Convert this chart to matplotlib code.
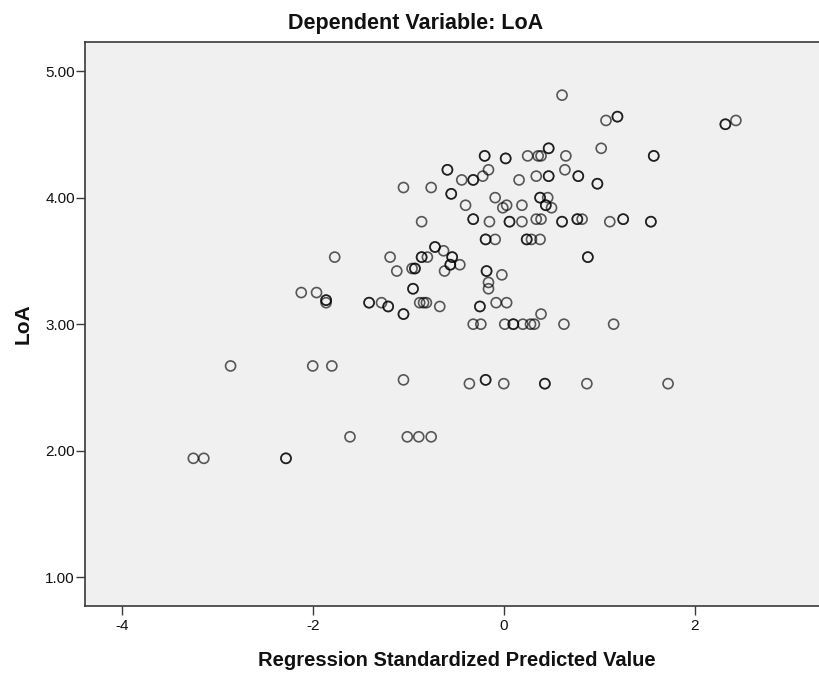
import matplotlib
matplotlib.use("Agg")
import matplotlib.pyplot as plt
from matplotlib import font_manager as fm
from matplotlib.ticker import FormatStrFormatter

# ---- data (repeated entries = overlapping points) ----
pred_x = [
    0.61, 1.07, 1.19, 1.19, 2.32, 2.32, 2.43, 1.02, 0.47, 0.47,
    1.57, 1.57, -0.20, -0.20, 0.02, 0.02, 0.25, 0.36, 0.39, 0.65,
    -0.59, -0.59, -0.16, 0.64, -0.44, -0.32, -0.32, -0.22, 0.16, 0.34,
    0.47, 0.47, 0.78, 0.78, 0.98, 0.98, -1.05, -0.76, -0.55, -0.55,
    -0.09, -0.01, 0.03, -0.40, 0.19, 0.38, 0.38, 0.46, 0.44, 0.44,
    0.50, -0.86, -0.32, -0.32, -0.15, 0.06, 0.06, 0.19, 0.34, 0.39,
    0.61, 0.61, 0.77, 0.77, 0.82, 1.11, 1.25, 1.25, 1.54, 1.54,
    -0.19, -0.19, -0.09, 0.24, 0.24, 0.29, 0.38, -0.72, -0.72, -0.63,
    -1.77, -1.19, -0.86, -0.86, -0.80, -0.54, -0.54, -0.56, -0.56, -0.46,
    -0.62, -1.12, -0.96, -0.93, -0.93, 0.88, 0.88, -0.18, -0.18, -0.02,
    -0.16, -0.16, -0.95, -0.95, -2.12, -1.96, -1.86, -1.86, -1.86, -1.41,
    -1.41, -1.28, -1.21, -1.21, -1.05, -1.05, -0.88, -0.84, -0.81, -0.67,
    -0.25, -0.25, -0.08, 0.03, 0.39,
    -0.32, -0.24, 0.01, 0.10, 0.10, 0.20, 0.28, 0.32, 0.63, 1.15,
    -2.86, -2.00, -1.80,
    -1.05, -0.19, -0.19,
    -0.36, 0.00, 0.43, 0.43, 0.87, 1.72,
    -1.61, -1.01, -0.89, -0.76,
    -3.25, -3.14, -2.28, -2.28,
]
loa_y = [
    4.81, 4.61, 4.64, 4.64, 4.58, 4.58, 4.61, 4.39, 4.39, 4.39,
    4.33, 4.33, 4.33, 4.33, 4.31, 4.31, 4.33, 4.33, 4.33, 4.33,
    4.22, 4.22, 4.22, 4.22, 4.14, 4.14, 4.14, 4.17, 4.14, 4.17,
    4.17, 4.17, 4.17, 4.17, 4.11, 4.11, 4.08, 4.08, 4.03, 4.03,
    4.00, 3.92, 3.94, 3.94, 3.94, 4.00, 4.00, 4.00, 3.94, 3.94,
    3.92, 3.81, 3.83, 3.83, 3.81, 3.81, 3.81, 3.81, 3.83, 3.83,
    3.81, 3.81, 3.83, 3.83, 3.83, 3.81, 3.83, 3.83, 3.81, 3.81,
    3.67, 3.67, 3.67, 3.67, 3.67, 3.67, 3.67, 3.61, 3.61, 3.58,
    3.53, 3.53, 3.53, 3.53, 3.53, 3.53, 3.53, 3.47, 3.47, 3.47,
    3.42, 3.42, 3.44, 3.44, 3.44, 3.53, 3.53, 3.42, 3.42, 3.39,
    3.33, 3.28, 3.28, 3.28, 3.25, 3.25, 3.19, 3.19, 3.17, 3.17,
    3.17, 3.17, 3.14, 3.14, 3.08, 3.08, 3.17, 3.17, 3.17, 3.14,
    3.14, 3.14, 3.17, 3.17, 3.08,
    3.00, 3.00, 3.00, 3.00, 3.00, 3.00, 3.00, 3.00, 3.00, 3.00,
    2.67, 2.67, 2.67,
    2.56, 2.56, 2.56,
    2.53, 2.53, 2.53, 2.53, 2.53, 2.53,
    2.11, 2.11, 2.11, 2.11,
    1.94, 1.94, 1.94, 1.94,
]
x_ticks = [-4, -2, 0, 2]
y_ticks = [1.0, 2.0, 3.0, 4.0, 5.0]
title_text = "Dependent Variable: LoA"
x_label = "Regression Standardized Predicted Value"
y_label = "LoA"

# ---- fonts ----
names = {f.name for f in fm.fontManager.ttflist}
narrow = "Liberation Sans Narrow" if "Liberation Sans Narrow" in names else (
    "DejaVu Sans Condensed" if "DejaVu Sans Condensed" in names else "Liberation Sans")
fam = [narrow, "Liberation Sans", "DejaVu Sans"]
plt.rcParams["font.family"] = fam

W, H = 819, 677
fig = plt.figure(figsize=(W / 100, H / 100), dpi=100)
fig.patch.set_facecolor("white")

left, right, top, bottom = 85, 819, 42, 606
ax = fig.add_axes([left / W, 1 - bottom / H, (right - left) / W, (bottom - top) / H])
ax.set_facecolor("#f0f0f0")

ax.scatter(pred_x, loa_y, s=52, facecolors="none",
           edgecolors=(0, 0, 0, 0.64), linewidths=1.2, zorder=3)

ax.set_xlim(-4.384, 3.30)
ax.set_ylim(0.773, 5.23)
ax.set_xticks(x_ticks)
ax.set_yticks(y_ticks)
ax.yaxis.set_major_formatter(FormatStrFormatter("%.2f"))
ax.xaxis.set_major_formatter(FormatStrFormatter("%d"))

spine_c = "#3a3a3a"
for s in ["left", "bottom", "top"]:
    ax.spines[s].set_color(spine_c)
    ax.spines[s].set_linewidth(1.2)
ax.spines["right"].set_visible(False)
ax.tick_params(axis="both", direction="out", length=6.5, width=1.0,
               color=spine_c, labelsize=11, labelcolor="#111111")
ax.tick_params(axis="y", pad=0.8)
ax.tick_params(axis="x", pad=3)

fig.text(0.507, 1 - 24 / H, title_text, ha="center", va="center",
         fontsize=15.5, fontweight="bold", color="#111111")
fig.text(0.558, 1 - 660 / H, x_label, ha="center", va="center",
         fontsize=14.5, fontweight="bold", color="#111111")
fig.text(23.5 / W, 1 - 324 / H, y_label, ha="center", va="center",
         rotation=90, fontsize=15, fontweight="bold", color="#111111")

fig.savefig("out.png", dpi=100, facecolor="white")
